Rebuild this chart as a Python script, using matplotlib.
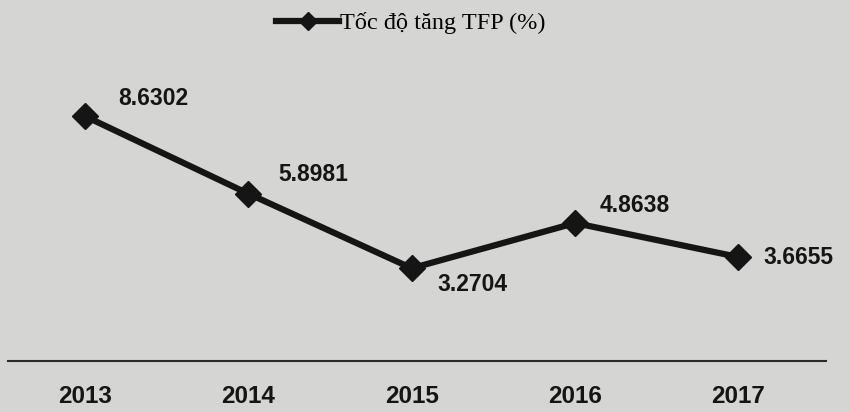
import matplotlib
matplotlib.use("Agg")
import matplotlib.pyplot as plt

years = ["2013", "2014", "2015", "2016", "2017"]
tfp = [8.6302, 5.8981, 3.2704, 4.8638, 3.6655]
labels = ["8.6302", "5.8981", "3.2704", "4.8638", "3.6655"]
series_name = "Tốc độ tăng TFP (%)"

sans = ["Liberation Sans", "DejaVu Sans"]

bg = "#d5d5d3"
fig = plt.figure(figsize=(8.49, 4.12), dpi=100, facecolor=bg)
ax = fig.add_axes([8/849, 1-361/412, (826-8)/849, (361-40)/412])
ax.set_facecolor(bg)

x = list(range(len(years)))
line, = ax.plot(x, tfp, color="#151515", lw=4.5, marker="D", ms=13,
                mfc="#151515", mec="#151515", label=series_name, zorder=3)

ax.set_xlim(-0.4717, 4.536)
ax.set_ylim(0, (361-40)/28.36)

offsets = [(49, 13), (47, 14), (44, -12), (43, 13), (43, 0)]
for xi, yi, lab, off in zip(x, tfp, labels, offsets):
    ax.annotate(lab, (xi, yi), xytext=off, textcoords="offset points",
                ha="center", va="center", fontsize=16.5, fontweight="bold",
                family=sans, color="#151515")

for s in ["top", "right", "left"]:
    ax.spines[s].set_visible(False)
ax.spines["bottom"].set_color("#2a2a2a")
ax.spines["bottom"].set_linewidth(1.5)
ax.set_yticks([])
ax.set_xticks(x)
ax.set_xticklabels(years, fontsize=17.5, fontweight="bold", family=sans,
                   color="#151515")
ax.tick_params(axis="x", length=0, pad=17)

leg = fig.legend(handles=[line], loc="center", bbox_to_anchor=(411/849, 1-23/412),
                 frameon=False, prop={"family": ["Liberation Serif", "DejaVu Serif"], "size": 17.5},
                 handlelength=2.6, handletextpad=0.05, markerscale=0.7)

fig.savefig("out.png", dpi=100, facecolor=bg)
